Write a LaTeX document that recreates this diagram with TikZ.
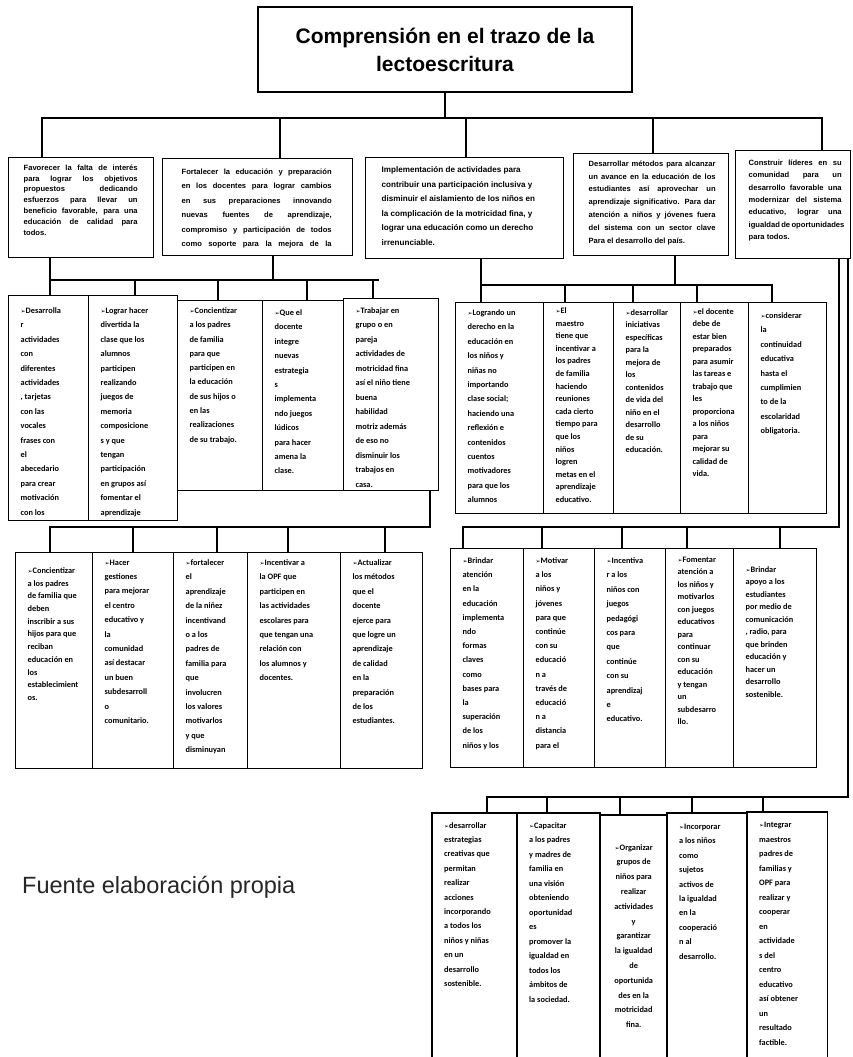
\documentclass[tikz,border=0pt]{standalone}
\usepackage{fontspec}
\setmainfont{Liberation Sans}
\newfontfamily\calfont{Carlito}
\newfontfamily\dvs{DejaVu Sans}
\newcommand{\ar}{{\dvs\fontsize{6}{6}\selectfont ➢}}
\newcommand{\jl}[1]{\makebox[\linewidth][s]{#1}\\}
\def\tbskip{12}
\def\rowfont{\calfont\bfseries\fontsize{8.3}}
% name x y w h skip toppad text
\newcommand{\cb}[8]{\node[colbox,anchor=north west] (#1) at (#2,#3) {\parbox[t][#5pt][t]{#4pt}{\rowfont{#6}\selectfont\raggedright\leftskip=12pt\relax\rightskip=-12pt plus 1fil\relax\vspace*{#7pt}#8\par}};}
\newcommand{\ob}[8]{\node[openbox,anchor=north west] (#1) at (#2,#3) {\parbox[t][#5pt][t]{#4pt}{\rowfont{#6}\selectfont\raggedright\leftskip=12pt\relax\rightskip=-12pt plus 1fil\relax\vspace*{#7pt}#8\par}};
\draw[boxline] (#1.south west) -- (#1.north west) -- (#1.north east) -- (#1.south east);}
% name x y w h toppad leftpad textwidth text
\newcommand{\tb}[9]{\node[colbox,anchor=north west] (#1) at (#2,#3) {\parbox[t][#5pt][t]{#4pt}{\vspace*{#6pt}\hspace*{#7pt}\parbox[t]{#8pt}{\bfseries\fontsize{7.6}{\tbskip}\selectfont #9}}};}
\begin{document}
\begin{tikzpicture}[x=1pt,y=-1pt,
  colbox/.style={draw,line width=1.3pt,fill=white,inner sep=0pt,rectangle},
  openbox/.style={draw=none,fill=white,inner sep=0pt,rectangle},
  boxline/.style={line width=1.3pt},
  conn/.style={line width=2.6pt,line cap=rect,line join=miter},
  titlebox/.style={draw,line width=1.3pt,fill=white,minimum width=374pt,minimum height=85pt,align=center,font=\bfseries\fontsize{21}{28}\selectfont}]
\useasboundingbox (0,0) rectangle (853,1057);
\fill[white] (0,0) rectangle (853,1057);

% ---------------- named points of the connector buses -------------
\coordinate (tA) at (42,118);
\coordinate (tB) at (822,118);
\coordinate (tC) at (445,118);
\coordinate (t2) at (280,118);
\coordinate (t3) at (466,118);
\coordinate (t4) at (653,118);
\coordinate (lA) at (50,280);
\coordinate (lB) at (378,280);
\coordinate (lC) at (273,280);
\coordinate (rA) at (481,285);
\coordinate (rB) at (772,285);
\coordinate (rC) at (675,285);
\coordinate (vT) at (848,258);
\coordinate (vB) at (848,797);
\coordinate (bA) at (487,797);
\coordinate (wT) at (839,258);
\coordinate (mA) at (50,527);
\coordinate (mB) at (430,527);
\coordinate (nA) at (463,527);
\coordinate (nB) at (839,527);

% ---------------- title ----------------
\node[titlebox] (title) at (445,49.5) {Comprensión en el trazo de la\\lectoescritura};

% ---------------- top level boxes ----------------
\def\tbskip{10.8}
\tb{B1}{8}{157}{145}{100}{7}{15}{114}{\jl{Favorecer la falta de interés}\jl{para lograr los objetivos}\jl{propuestos dedicando}\jl{esfuerzos para llevar un}\jl{beneficio favorable, para una}\jl{educación de calidad para}todos.}
\def\tbskip{14.5}
\tb{B2}{162}{158}{190}{97}{10}{19}{150}{\jl{Fortalecer la educación y preparación}\jl{en los docentes para lograr cambios}\jl{en sus preparaciones innovando}\jl{nuevas fuentes de aprendizaje,}\jl{compromiso y participación de todos}\jl{como soporte para la mejora de la}}
\def\tbskip{14.5}
\tb{B3}{365}{157}{198}{101}{9}{16}{178}{\fontsize{8.1}{14.5}\selectfont Implementación de actividades para\\contribuir una participación inclusiva y\\disminuir el aislamiento de los niños en\\la complicación de la motricidad fina, y\\lograr una educación como un derecho\\irrenunciable.}
\def\tbskip{12.8}
\tb{B4}{573}{153}{155}{102}{7}{15}{127}{\jl{Desarrollar métodos para alcanzar}\jl{un avance en la educación de los}\jl{estudiantes así aprovechar un}\jl{aprendizaje significativo. Para dar}\jl{atención a niños y jóvenes fuera}\jl{del sistema con un sector clave}Para el desarrollo del país.}
\def\tbskip{12.4}
\tb{B5}{735}{150}{115}{108}{9}{13}{93}{\jl{Construir líderes en su}\jl{comunidad para un}\jl{desarrollo favorable una}\jl{modernizar del sistema}\jl{educativo, lograr una}\jl{igualdad de oportunidades}para todos.}

% ---------------- connectors top ----------------
\draw[conn] (title.south) -- (tC);
\draw[conn] (tA) -- (tB);
\draw[conn] (tA) -- (tA |- B1.north);
\draw[conn] (t2) -- (t2 |- B2.north);
\draw[conn] (t3) -- (t3 |- B3.north);
\draw[conn] (t4) -- (t4 |- B4.north);
\draw[conn] (tB) -- (tB |- B5.north);

% ---------------- row 2 left ----------------
\cb{L1}{8}{295}{80}{225}{14.4}{12}{\ar Desarrolla\\r\\actividades\\con\\diferentes\\actividades\\, tarjetas\\con las\\vocales\\frases con\\el\\abecedario\\para crear\\motivación\\con los}
\cb{L2}{88}{295}{89}{225}{14.4}{12}{\ar Lograr hacer\\divertida la\\clase que los\\alumnos\\participen\\realizando\\juegos de\\memoria\\composicione\\s y que\\tengan\\participación\\en grupos así\\fomentar el\\aprendizaje}
\cb{L3}{177}{300}{85}{190}{14.3}{7}{\ar Concientizar\\a los padres\\de familia\\para que\\participen en\\la educación\\de sus hijos o\\en las\\realizaciones\\de su trabajo.}
\cb{L4}{262}{300}{81}{190}{14.4}{9}{\ar Que el\\docente\\integre\\nuevas\\estrategia\\s\\implementa\\ndo juegos\\lúdicos\\para hacer\\amena la\\clase.}
\cb{L5}{343}{298}{95}{192}{14.5}{9}{\ar Trabajar en\\grupo o en\\pareja\\actividades de\\motricidad fina\\así el niño tiene\\buena\\habilidad\\motriz además\\de eso no\\disminuir los\\trabajos en\\casa.}

% ---------------- row 2 right ----------------
\cb{R1}{455}{302}{88}{211}{14.4}{7}{\ar Logrando un\\derecho en la\\educación en\\los niños y\\niñas no\\importando\\clase social;\\haciendo una\\reflexión e\\contenidos\\cuentos\\motivadores\\para que los\\alumnos}
\cb{R2}{543}{302}{70}{211}{12.6}{5}{\ar El\\maestro\\tiene que\\incentivar a\\los padres\\de familia\\haciendo\\reuniones\\cada cierto\\tiempo para\\que los\\niños\\logren\\metas en el\\aprendizaje\\educativo.}
\cb{R3}{613}{302}{67}{211}{12.5}{7}{\ar desarrollar\\iniciativas\\específicas\\para la\\mejora de\\los\\contenidos\\de vida del\\niño en el\\desarrollo\\de su\\educación.}
\cb{R4}{680}{302}{68}{211}{12.5}{6}{\ar el docente\\debe de\\estar bien\\preparados\\para asumir\\las tareas e\\trabajo que\\les\\proporciona\\a los niños\\para\\mejorar su\\calidad de\\vida.}
\cb{R5}{748}{302}{78}{211}{14.4}{10}{\ar considerar\\la\\continuidad\\educativa\\hasta el\\cumplimien\\to de la\\escolaridad\\obligatoria.}

% ---------------- row 3 left ----------------
\cb{T1}{15}{552}{77}{216}{12.7}{15}{\ar Concientizar\\a los padres\\de familia que\\deben\\inscribir a sus\\hijos para que\\reciban\\educación en\\los\\establecimient\\os.}
\cb{T2}{92}{552}{81}{216}{14.4}{7}{\ar Hacer\\gestiones\\para mejorar\\el centro\\educativo y\\la\\comunidad\\así destacar\\un buen\\subdesarroll\\o\\comunitario.}
\cb{T3}{173}{552}{74}{216}{14.4}{7}{\ar fortalecer\\el\\aprendizaje\\de la niñez\\incentivand\\o a los\\padres de\\familia para\\que\\involucren\\los valores\\motivarlos\\y que\\disminuyan}
\cb{T4}{247}{552}{93}{216}{14.4}{7}{\ar Incentivar a\\la OPF que\\participen en\\las actividades\\escolares para\\que tengan una\\relación con\\los alumnos y\\docentes.}
\cb{T5}{340}{552}{82}{216}{14.4}{7}{\ar Actualizar\\los métodos\\que el\\docente\\ejerce para\\que logre un\\aprendizaje\\de calidad\\en la\\preparación\\de los\\estudiantes.}

% ---------------- row 3 right ----------------
\cb{U1}{450}{548}{73}{219}{14.2}{9}{\ar Brindar\\atención\\en la\\educación\\implementa\\ndo\\formas\\claves\\como\\bases para\\la\\superación\\de los\\niños y los}
\cb{U2}{523}{548}{71}{219}{14.2}{9}{\ar Motivar\\a los\\niños y\\jóvenes\\para que\\continúe\\con su\\educació\\n a\\través de\\educació\\n a\\distancia\\para el}
\cb{U3}{594}{548}{71}{219}{14.4}{9}{\ar Incentiva\\r a los\\niños con\\juegos\\pedagógi\\cos para\\que\\continúe\\con su\\aprendizaj\\e\\educativo.}
\cb{U4}{665}{548}{68}{219}{12.5}{8}{\ar Fomentar\\atención a\\los niños y\\motivarlos\\con juegos\\educativos\\para\\continuar\\con su\\educación\\y tengan\\un\\subdesarro\\llo.}
\cb{U5}{733}{548}{83}{219}{12.5}{18}{\ar Brindar\\apoyo a los\\estudiantes\\por medio de\\comunicación\\, radio, para\\que brinden\\educación y\\hacer un\\desarrollo\\sostenible.}

% ---------------- bottom row ----------------
\ob{V1}{432}{813}{85}{244}{14.4}{9}{\ar desarrollar\\estrategias\\creativas que\\permitan\\realizar\\acciones\\incorporando\\a todos los\\niños y niñas\\en un\\desarrollo\\sostenible.}
\ob{V2}{517}{813}{83}{244}{14.5}{9}{\ar Capacitar\\a los padres\\y madres de\\familia en\\una visión\\obteniendo\\oportunidad\\es\\promover la\\igualdad en\\todos los\\ámbitos de\\la sociedad.}
\ob{V3}{600}{815}{67}{242}{14.8}{29}{\centering\ar Organizar\\grupos de\\niños para\\realizar\\actividades\\y\\garantizar\\la igualdad\\de\\oportunida\\des en la\\motricidad\\fina.}
\ob{V4}{667}{813}{80}{244}{14.4}{11}{\ar Incorporar\\a los niños\\como\\sujetos\\activos de\\la igualdad\\en la\\cooperació\\n al\\desarrollo.}
\ob{V5}{747}{812}{80}{245}{14.5}{10}{\ar Integrar\\maestros\\padres de\\familias y\\OPF para\\realizar y\\cooperar\\en\\actividade\\s del\\centro\\educativo\\así obtener\\un\\resultado\\factible.}

% ---------------- connectors lower ----------------
\draw[conn] (lA |- B1.south) -- (lA);
\draw[conn] (lC |- B2.south) -- (lC);
\draw[conn] (lA) -- (lB);
\foreach \x/\n in {50/L1,135/L2,218/L3,307/L4,373/L5}
  \draw[conn] (\x,280) -- (\x,280 |- \n.north);
\draw[conn] (rA |- B3.south) -- (rA);
\draw[conn] (rC |- B4.south) -- (rC);
\draw[conn] (rA) -- (rB);
\foreach \x/\n in {481/R1,565/R2,633/R3,697/R4,772/R5}
  \draw[conn] (\x,285) -- (\x,285 |- \n.north);
\draw[conn] (vT |- B5.south) -- (vB) -- (bA);
\foreach \x/\n in {487/V1,547/V2,620/V3,692/V4,763/V5}
  \draw[conn] (\x,797) -- (\x,797 |- \n.north);
\draw[conn] (mB |- L5.south) -- (mB) -- (mA);
\foreach \x/\n in {50/T1,133/T2,217/T3,288/T4,385/T5}
  \draw[conn] (\x,527) -- (\x,527 |- \n.north);
\draw[conn] (wT |- B5.south) -- (nB) -- (nA);
\foreach \x/\n in {463/U1,542/U2,622/U3,687/U4,780/U5}
  \draw[conn] (\x,527) -- (\x,527 |- \n.north);

% ---------------- source ----------------
\node[anchor=base west,inner sep=0pt,text=black!85] (src) at (22,893) {\fontsize{23.5}{26}\selectfont Fuente elaboración propia};
\end{tikzpicture}
\end{document}
